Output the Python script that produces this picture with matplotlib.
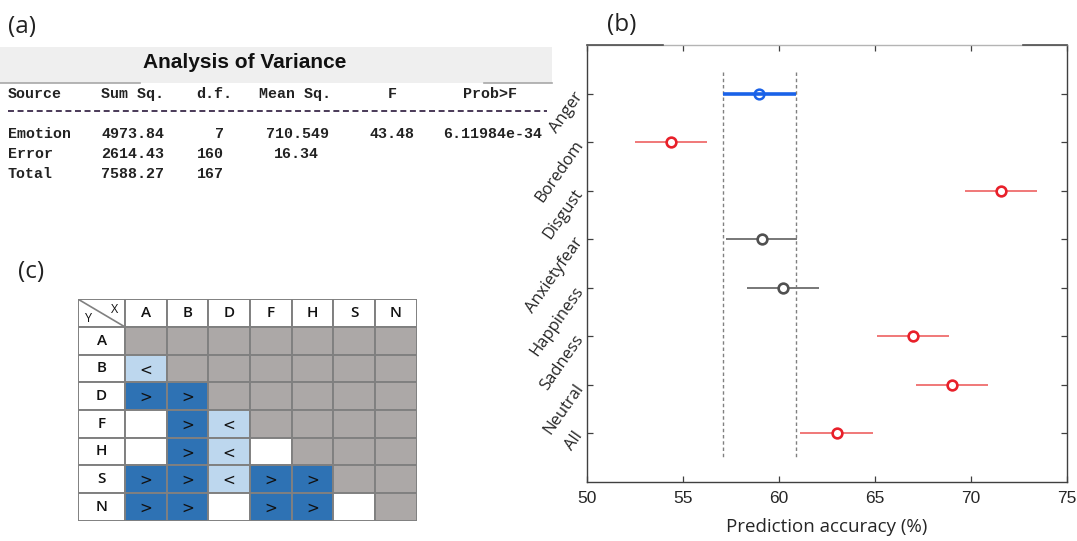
import matplotlib
matplotlib.use("Agg")
import matplotlib.pyplot as plt
from matplotlib.patches import Rectangle

W, H = 1077, 541

# ---------------- (a) ANOVA table ----------------
anova_title = "Analysis of Variance"
anova_header = ["Source", "Sum Sq.", "d.f.", "Mean Sq.", "F", "Prob>F"]
anova_source = ["Emotion", "Error", "Total"]
anova_ss = ["4973.84", "2614.43", "7588.27"]
anova_df = ["7", "160", "167"]
anova_ms = ["710.549", "16.34", ""]
anova_f = ["43.48", "", ""]
anova_p = ["6.11984e-34", "", ""]

# ---------------- (b) prediction accuracy ----------------
emotions = ["Anger", "Boredom", "Disgust", "Anxietyfear",
            "Happiness", "Sadness", "Neutral", "All"]
accuracy = [58.98, 54.38, 71.56, 59.09, 60.20, 66.97, 69.03, 63.00]
half_width = [1.89, 1.88, 1.88, 1.87, 1.87, 1.88, 1.88, 1.89]
# 0 = reference group, 1 = significantly different, 2 = not different
group_kind = [0, 1, 1, 2, 2, 1, 1, 1]

# ---------------- (c) pairwise comparison grid ----------------
grid_labels = ["A", "B", "D", "F", "H", "S", "N"]
# 0 white, 1 ">" (dark blue), 2 "<" (light blue), 3 grey (not tested)
grid_codes = [
    [3, 3, 3, 3, 3, 3, 3],
    [2, 3, 3, 3, 3, 3, 3],
    [1, 1, 3, 3, 3, 3, 3],
    [0, 1, 2, 3, 3, 3, 3],
    [0, 1, 2, 0, 3, 3, 3],
    [1, 1, 2, 1, 1, 3, 3],
    [1, 1, 0, 1, 1, 0, 3],
]

fig = plt.figure(figsize=(W / 100, H / 100), dpi=100)


def px_axes(left, top, width, height):
    return fig.add_axes([left / W, 1 - (top + height) / H, width / W, height / H])


# canvas in pixel coordinates for panel (a) and the panel letters
bg = px_axes(0, 0, W, H)
bg.set_xlim(0, W)
bg.set_ylim(H, 0)
bg.axis("off")

lbl_font = dict(family="Open Sans", fontsize=17.5, color="#222222", va="center")
bg.text(8, 27, "(a)", **lbl_font)
bg.text(607, 25, "(b)", **lbl_font)
bg.text(18, 272, "(c)", **lbl_font)

bg.add_patch(Rectangle((0, 47), 552, 36, facecolor="#efefef", edgecolor="none"))
bg.plot([0, 140], [83, 83], color="#a8a8a8", lw=1.2)
bg.plot([484, 552], [83, 83], color="#a8a8a8", lw=1.2)
bg.text(245, 63, anova_title, family="Liberation Sans", weight="bold",
        fontsize=15, ha="center", va="center", color="#111111")

mono = dict(family="Liberation Mono", fontsize=10.8, color="#222222",
            va="center", weight="bold")
hdr_x = [8, 101, 196, 259, 388, 463]
for x, s in zip(hdr_x, anova_header):
    bg.text(x, 94, s, ha="left", **mono)
bg.plot([8, 547], [111, 111], color="#3a2a4a", lw=1.3, dashes=(3.3, 2.0))

row_y = [134, 154, 174]
for i, y in enumerate(row_y):
    bg.text(8, y, anova_source[i], ha="left", **mono)
    bg.text(101, y, anova_ss[i], ha="left", **mono)
    bg.text(224, y, anova_df[i], ha="right", **mono)
    bg.text(329 if i == 0 else 319, y, anova_ms[i], ha="right", **mono)
    bg.text(369, y, anova_f[i], ha="left", **mono)
    bg.text(443, y, anova_p[i], ha="left", **mono)

# ---------------- (b) ----------------
ax = px_axes(587, 45, 480, 436.7)
red, red_line = "#e8202a", "#f07878"
grey, grey_line = "#505050", "#777777"
blue = "#1a62e8"
ypos = list(range(1, len(emotions) + 1))

for y, m, h, k in zip(ypos, accuracy, half_width, group_kind):
    if k == 0:
        ax.hlines(y, m - h, m + h, color=blue, lw=2.6, zorder=2)
        ax.plot(m, y, "o", ms=7, mfc="none", mec=blue, mew=1.8, zorder=3)
    elif k == 1:
        ax.hlines(y, m - h, m + h, color=red_line, lw=1.4, zorder=2)
        ax.plot(m, y, "o", ms=7, mfc="white", mec=red, mew=1.9, zorder=3)
    else:
        ax.hlines(y, m - h, m + h, color=grey_line, lw=1.4, zorder=2)
        ax.plot(m, y, "o", ms=7, mfc="white", mec=grey, mew=1.9, zorder=3)

# bounds of the reference group interval
ref = group_kind.index(0)
for xb in (accuracy[ref] - half_width[ref], accuracy[ref] + half_width[ref]):
    ax.vlines(xb, 0.55, 8.5, color="#808080", lw=1.0,
              linestyles=(0, (2.5, 2.0)), zorder=1)

ax.set_xlim(50, 75)
ax.set_ylim(9, 0)
ax.set_xticks([50, 55, 60, 65, 70, 75])
ax.set_yticks(ypos)
ax.set_yticklabels(emotions, rotation=55, ha="right", va="center",
                   rotation_mode="anchor", family="Open Sans", fontsize=12,
                   color="#262626")
for t in ax.get_xticklabels():
    t.set_family("Liberation Sans")
    t.set_fontsize(12.5)
    t.set_color("#262626")
ax.tick_params(direction="in", length=4, width=0.9, color="#404040",
               top=True, right=True, pad=7)
ax.tick_params(axis="y", pad=5)
ax.set_xlabel("Prediction accuracy (%)", family="Open Sans", fontsize=13.5,
              color="#262626", labelpad=8)
for name, sp in ax.spines.items():
    sp.set_color("#404040")
    sp.set_linewidth(1.0)
ax.spines["top"].set_color("#b4b4b4")
ax.plot([0, 0.158], [1, 1], transform=ax.transAxes, color="#505050",
        lw=1.2, clip_on=False, zorder=5)
ax.plot([0.909, 1], [1, 1], transform=ax.transAxes, color="#505050",
        lw=1.2, clip_on=False, zorder=5)

# ---------------- (c) ----------------
head_w, cell_w, cell_h = 46.7, 41.7, 27.65
n = len(grid_labels)
gw = head_w + n * cell_w
gh = (n + 1) * cell_h
gx = px_axes(78.3, 299.3, gw, gh)
gx.set_xlim(0, gw)
gx.set_ylim(gh, 0)
gx.axis("off")

fills = {0: "white", 1: "#2e72b4", 2: "#bdd7ee", 3: "#aca8a7"}
marks = {1: ">", 2: "<"}
edge = "#808080"
cell_font = dict(family="Open Sans", fontsize=11, ha="center", va="center",
                 color="#111111")
mark_font = dict(family="DejaVu Sans", fontsize=11, ha="center",
                 va="center_baseline", color="#111111")

gx.add_patch(Rectangle((0, 0), head_w, cell_h, facecolor="white",
                       edgecolor=edge, lw=1.4))
gx.plot([0, head_w], [0, cell_h], color=edge, lw=1.2)
gx.text(head_w * 0.78, cell_h * 0.38, "X", family="Open Sans", fontsize=9,
        ha="center", va="center", color="#111111")
gx.text(head_w * 0.22, cell_h * 0.68, "Y", family="Open Sans", fontsize=9,
        ha="center", va="center", color="#111111")

for j, lab in enumerate(grid_labels):
    x0 = head_w + j * cell_w
    gx.add_patch(Rectangle((x0, 0), cell_w, cell_h, facecolor="white",
                           edgecolor=edge, lw=1.4))
    gx.text(x0 + cell_w / 2, cell_h / 2, lab, weight="semibold", **cell_font)

for i, lab in enumerate(grid_labels):
    y0 = (i + 1) * cell_h
    gx.add_patch(Rectangle((0, y0), head_w, cell_h, facecolor="white",
                           edgecolor=edge, lw=1.4))
    gx.text(head_w / 2, y0 + cell_h / 2, lab, weight="semibold", **cell_font)
    for j, code in enumerate(grid_codes[i]):
        x0 = head_w + j * cell_w
        gx.add_patch(Rectangle((x0, y0), cell_w, cell_h, facecolor=fills[code],
                               edgecolor=edge, lw=1.4))
        if code in marks:
            gx.text(x0 + cell_w / 2, y0 + cell_h / 2, marks[code], **mark_font)

fig.savefig("out.png", dpi=100)
